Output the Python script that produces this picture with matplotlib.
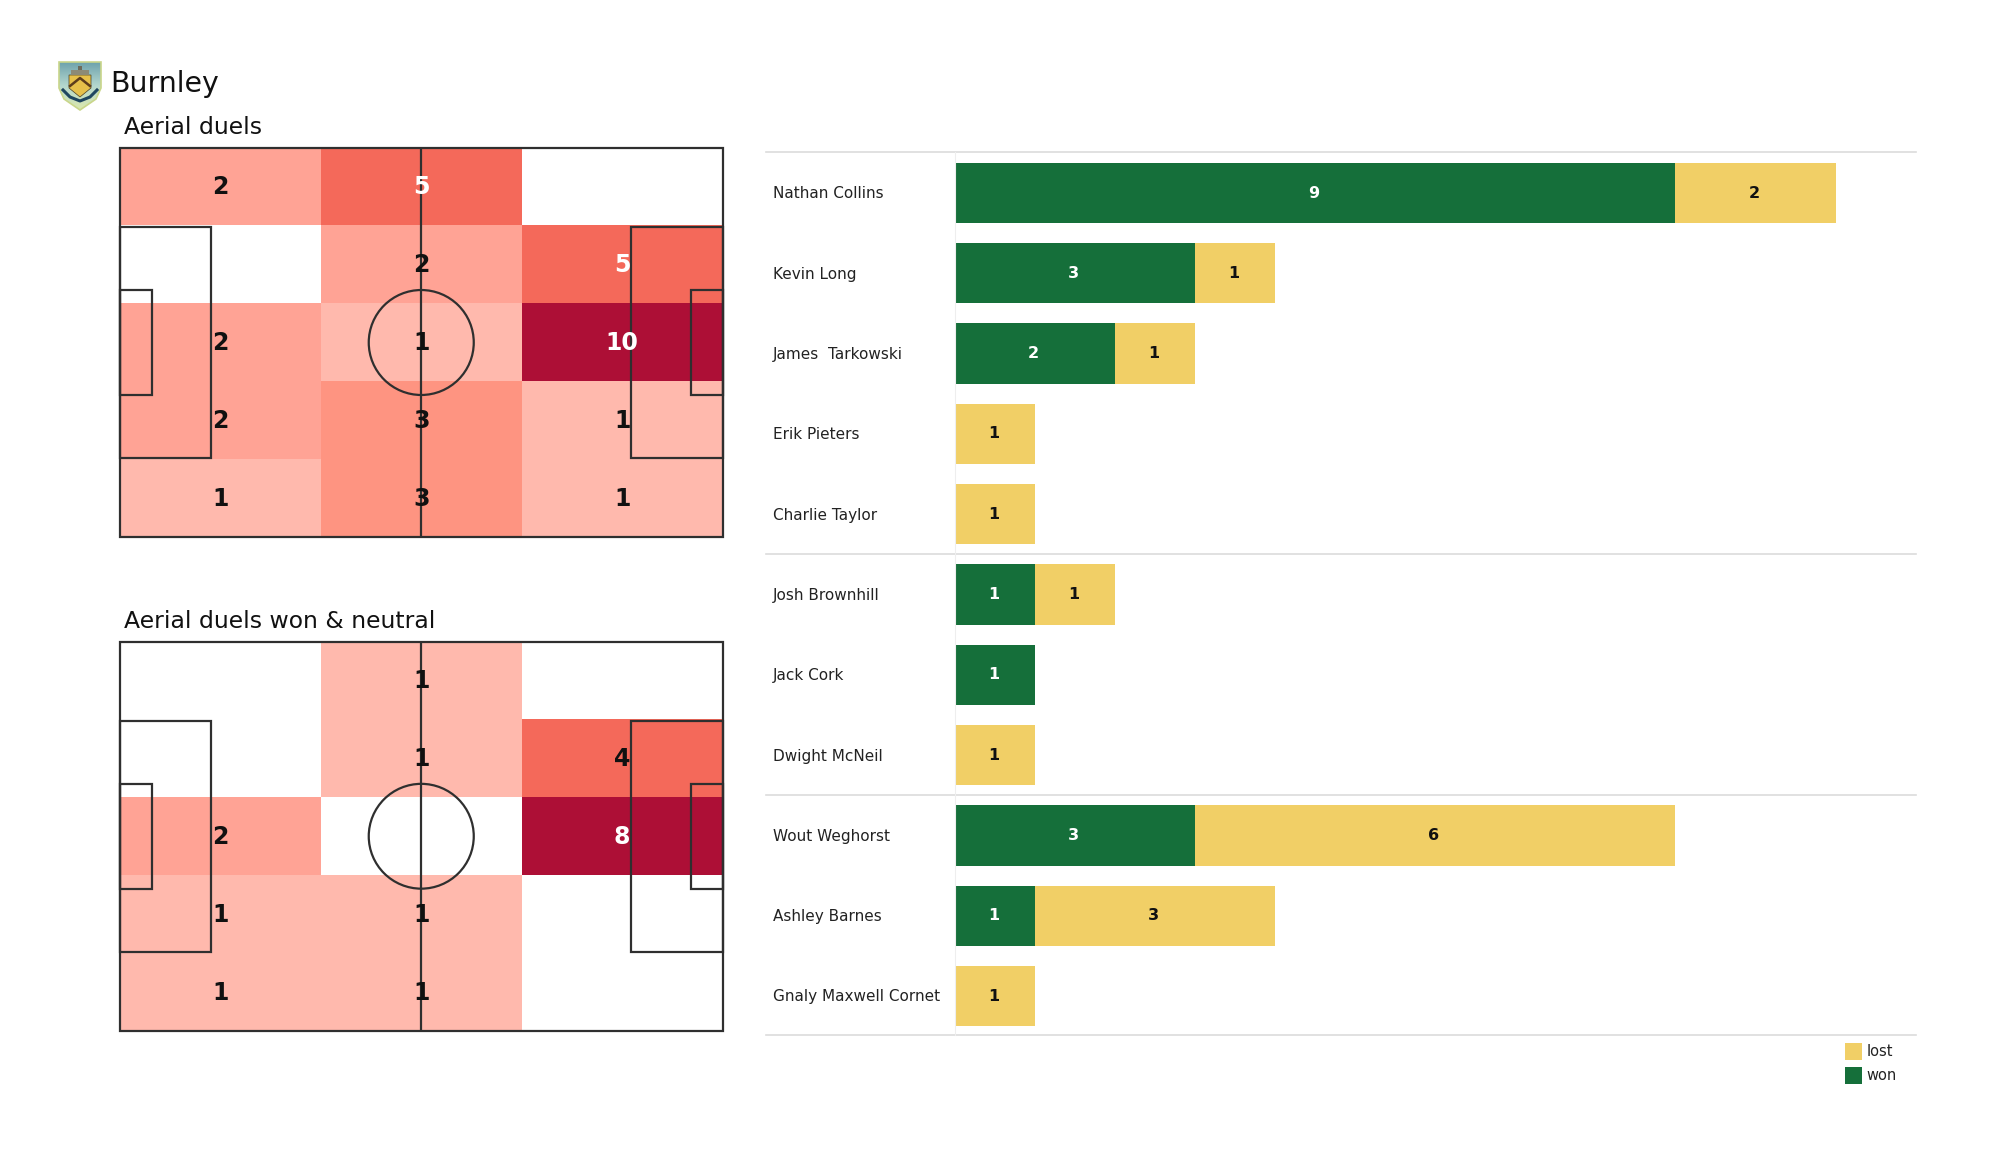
import matplotlib.pyplot as plt
import numpy as np
from matplotlib.colors import LinearSegmentedColormap
from matplotlib.patches import Circle, Polygon, Rectangle

# heat maps, rows from top to bottom
all_duels = [[2, 5, 0], [0, 2, 5], [2, 1, 10], [2, 3, 1], [1, 3, 1]]
won_duels = [[0, 1, 0], [0, 1, 4], [2, 0, 8], [1, 1, 0], [1, 1, 0]]

players = ['Nathan Collins', 'Kevin Long', 'James  Tarkowski', 'Erik Pieters', 'Charlie Taylor',
           'Josh Brownhill', 'Jack Cork', 'Dwight McNeil',
           'Wout Weghorst', 'Ashley Barnes', 'Gnaly Maxwell Cornet']
won = [9, 3, 2, 0, 0, 1, 1, 0, 3, 1, 0]
lost = [2, 1, 1, 1, 1, 1, 0, 1, 6, 3, 1]
group_ends = [4.5, 7.5]

W, H = 2000, 1175
GREEN = '#156f3a'
YELLOW = '#f1cf66'
LINE = '#2f2f2f'
GREY = '#dcdcdc'

cmap = LinearSegmentedColormap.from_list('heat', [(0, '#ffffff'), (0.01, '#ffc4b9'), (0.1, '#ffb9ad'),
                                                  (0.125, '#ffb9ad'), (0.2, '#ffa395'), (0.25, '#ffa395'),
                                                  (0.3, '#fe9380'), (0.5, '#f4695a'), (1, '#ad0f36')])


def add_axes(x0, y0, x1, y1):
    # pixel box, y measured from the top of the picture
    return fig.add_axes([x0 / W, 1 - y1 / H, (x1 - x0) / W, (y1 - y0) / H])


def draw_pitch(ax, values):
    values = np.array(values)
    ax.pcolormesh(np.linspace(0, 105, 4), np.linspace(0, 68, 6), values / values.max(),
                  cmap=cmap, vmin=0, vmax=1, zorder=1)
    boxes = [(0, 0, 105, 68), (0, 13.84, 15.9, 40.32), (89.1, 13.84, 15.9, 40.32),
             (0, 24.84, 5.5, 18.32), (99.5, 24.84, 5.5, 18.32)]
    for x, y, w, h in boxes:
        ax.add_patch(Rectangle((x, y), w, h, fill=False, ec=LINE, lw=1.6, zorder=2, clip_on=False))
    ax.plot([52.5, 52.5], [0, 68], color=LINE, lw=1.6, zorder=2)
    ax.add_patch(Circle((52.5, 34), 9.15, fill=False, ec=LINE, lw=1.6, zorder=2))
    for r, row in enumerate(values):
        for c, v in enumerate(row):
            if v > 0:
                ax.text(17.5 + c * 35, 6.9 + r * 13.6, str(v), ha='center', va='center', fontsize=17,
                        fontweight='bold', color='white' if v >= 5 else '#111111', zorder=3)
    ax.set_xlim(0, 105)
    ax.set_ylim(68, 0)
    ax.axis('off')


fig = plt.figure(figsize=(20, 11.75), dpi=100)

ax1 = add_axes(120, 147.5, 722.5, 537.5)
draw_pitch(ax1, all_duels)
ax2 = add_axes(120, 641.5, 722.5, 1031)
draw_pitch(ax2, won_duels)

fig.text(110 / W, 1 - 84 / H, 'Burnley', fontsize=20.4, va='center', color='#111111')
fig.text(124 / W, 1 - 127 / H, 'Aerial duels', fontsize=16.9, va='center', color='#111111')
fig.text(124 / W, 1 - 621 / H, 'Aerial duels won & neutral', fontsize=16.9, va='center', color='#111111')

# crest
crest = add_axes(58, 61, 102, 111)
crest.set_xlim(0, 44)
crest.set_ylim(50, 0)
crest.axis('off')
shield = Polygon([(1, 1), (43, 1), (43, 27), (38, 38), (22, 49), (6, 38), (1, 27)], fc='none', ec='#c9d68a', lw=1.2)
crest.add_patch(shield)
grad = crest.imshow(np.linspace(0, 1, 40).reshape(-1, 1), extent=(1, 43, 49, 1), aspect='auto',
                    cmap=LinearSegmentedColormap.from_list('crest', ['#6fa3ad', '#b5d8cf', '#dbe8ad']))
grad.set_clip_path(shield)
crest.add_patch(Polygon([(11, 14), (33, 14), (33, 27), (22, 36), (11, 27)], fc='#e6c04a', ec='#4a3f22', lw=0.5))
crest.plot([12, 22, 32], [25, 17, 25], color='#5c3d1c', lw=1.8)
crest.add_patch(Rectangle((13, 9), 18, 5, fc='#8c8a76', ec='none'))
crest.add_patch(Rectangle((20, 5), 4, 4, fc='#6d6a5a', ec='none'))
crest.plot([5, 12, 22, 32, 39], [29, 36, 40, 36, 29], color='#1f4660', lw=2.2)

# bars
unit = 80.1
row = 80.3
ax = add_axes(954.5, 152, 1916, 1035)
ax.set_xlim(0, (1916 - 954.5) / unit)
ax.set_ylim(10.5 + (1035 - 996) / row - 0.5, -(193 - 152) / row)
y = np.arange(len(players))
ax.barh(y, won, height=0.75, color=GREEN)
ax.barh(y, lost, left=won, height=0.75, color=YELLOW)
for i in y:
    if won[i] > 0:
        ax.text(won[i] / 2 - 0.015, i, str(won[i]), ha='center', va='center', fontsize=11.5, fontweight='bold',
                color='white')
    if lost[i] > 0:
        ax.text(won[i] + lost[i] / 2 - 0.015, i, str(lost[i]), ha='center', va='center', fontsize=11.5,
                fontweight='bold', color='#111111')
    ax.annotate(players[i], (0, i + 0.012), xytext=(-(954.5 - 773) * 0.72, 0), textcoords='offset points', ha='left',
                va='center', fontsize=10.95, color='#222222')
for spine in ax.spines.values():
    spine.set_visible(False)
ax.spines['left'].set_visible(True)
ax.spines['left'].set_color('#eeeeee')
ax.set_xticks([])
ax.set_yticks([])
for yy in [ax.get_ylim()[1]] + group_ends + [ax.get_ylim()[0]]:
    ax.plot([-(954.5 - 766) / unit, ax.get_xlim()[1]], [yy, yy], color=GREY, lw=1.2, clip_on=False)

# legend
leg = add_axes(1844, 1042, 1900, 1084)
leg.set_xlim(0, 56)
leg.set_ylim(42, 0)
leg.axis('off')
for i, (name, col) in enumerate([('lost', YELLOW), ('won', GREEN)]):
    leg.add_patch(Rectangle((0.5, 1 + i * 23.5), 17, 17, fc=col, ec='none'))
    leg.text(22.5, 10 + i * 23.5, name, fontsize=10.5, va='center', color='#222222')

fig.savefig('out.png', dpi=100, facecolor='white')
